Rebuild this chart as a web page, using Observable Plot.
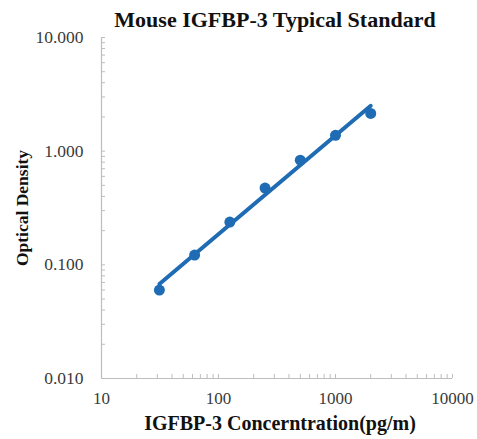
<!DOCTYPE html>
<html>
<head>
<meta charset="utf-8">
<script src="https://cdn.jsdelivr.net/npm/d3@7"></script>
<script src="https://cdn.jsdelivr.net/npm/@observablehq/plot@0.6"></script>
<style>
  html, body { margin: 0; padding: 0; background: #fff; }
  #chart svg { display: block; }
</style>
</head>
<body>
<div id="chart"></div>
<script>
// Data
const concentrations = [31.25, 62.5, 125, 250, 500, 1000, 2000];
const opticalDensity = [0.060, 0.122, 0.238, 0.473, 0.834, 1.38, 2.15];
const xTicks = [10, 100, 1000, 10000];
const yTicks = [0.01, 0.1, 1, 10];
const title = "Mouse IGFBP-3 Typical Standard";
const xLabel = "IGFBP-3 Concerntration(pg/m)";
const yLabel = "Optical Density";

const points = concentrations.map((c, i) => ({x: c, y: opticalDensity[i]}));

// Power trendline (least squares in log-log space) from the data
const lx = points.map(d => Math.log10(d.x)), ly = points.map(d => Math.log10(d.y));
const mx = d3.mean(lx), my = d3.mean(ly);
const slope = d3.sum(lx, (v, i) => (v - mx) * (ly[i] - my)) / d3.sum(lx, v => (v - mx) ** 2);
const icpt = my - slope * mx;
const fitLine = [d3.min(concentrations), d3.max(concentrations)].map(c => ({x: c, y: 10 ** (icpt + slope * Math.log10(c))}));

// minor ticks 1..9 per decade
const minorX = d3.range(1, 4).flatMap(e => d3.range(1, 10).map(k => k * 10 ** e)).concat([10000]);
const minorY = d3.range(-2, 1).flatMap(e => d3.range(1, 10).map(k => +(k * 10 ** e).toPrecision(3))).concat([10]);

const blue = "#1f6cb4";
const grey = "#bdbdbd";
const serif = "'Liberation Serif', 'Times New Roman', serif";

const chart = Plot.plot({
  width: 477,
  height: 439,
  marginLeft: 101,
  marginRight: 25,
  marginTop: 37,
  marginBottom: 61,
  style: {fontFamily: serif, fontSize: "17px", color: "#333", background: "#fff"},
  x: {type: "log", domain: [10, 10000]},
  y: {type: "log", domain: [0.01, 10]},
  marks: [
    Plot.ruleX([10], {stroke: grey, strokeWidth: 1.2}),
    Plot.ruleY([0.01], {stroke: grey, strokeWidth: 1.2}),
    Plot.axisY({ticks: minorY, tickSize: -4, tickFormat: () => "", stroke: grey, label: null}),
    Plot.axisX({ticks: minorX, tickSize: -4, tickFormat: () => "", stroke: grey, label: null}),
    Plot.axisY({ticks: yTicks, tickSize: 0, tickPadding: 18, tickFormat: d3.format(".3f"),
      fontSize: 17.5, fill: "#3a3a3a", label: null}),
    Plot.axisX({ticks: xTicks, tickSize: 0, tickPadding: 13, tickFormat: d3.format("d"),
      fontSize: 17, fill: "#3a3a3a", label: null}),
    Plot.line(fitLine, {x: "x", y: "y", stroke: blue, strokeWidth: 4}),
    Plot.dot(points, {x: "x", y: "y", r: 5.5, fill: blue, stroke: null}),
    Plot.text([title], {frameAnchor: "top", dy: -11, dx: -2, lineAnchor: "bottom", text: d => d, fontSize: 22, fontWeight: "bold", fill: "#111", fontFamily: serif}),
    Plot.text([xLabel], {frameAnchor: "bottom", dy: 51, dx: 3, text: d => d, fontSize: 20, fontWeight: "bold", fill: "#111", fontFamily: serif}),
    Plot.text([yLabel], {frameAnchor: "left", textAnchor: "middle", dx: -79, dy: 0, rotate: -90, text: d => d, fontSize: 17.5, fontWeight: "bold", fill: "#111", fontFamily: serif})
  ]
});
document.getElementById("chart").appendChild(chart);
</script>
</body>
</html>
